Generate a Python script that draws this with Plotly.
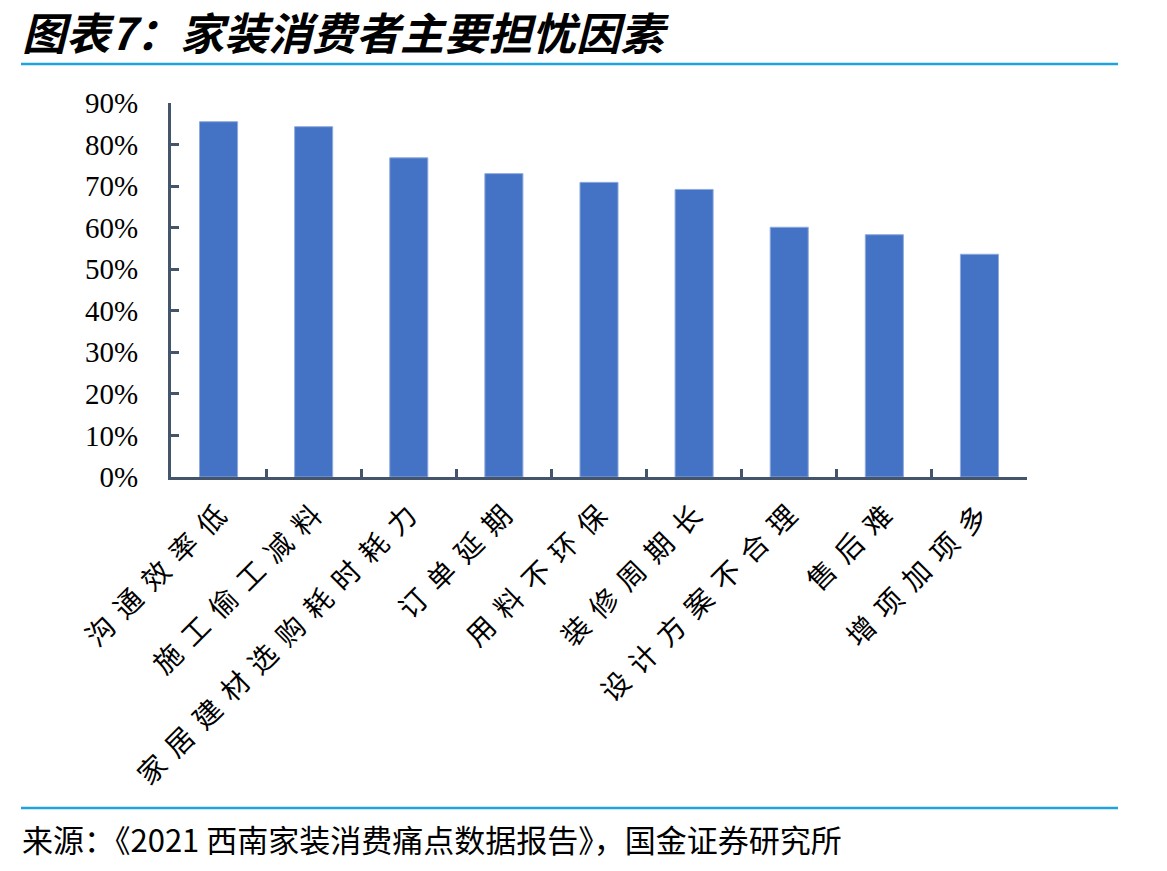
import plotly.graph_objects as go

categories = ["沟通效率低", "施工偷工减料", "家居建材选购耗时耗力", "订单延期", "用料不环保",
              "装修周期长", "设计方案不合理", "售后难", "增项加项多"]
values = [0.855, 0.843, 0.768, 0.730, 0.709, 0.692, 0.601, 0.583, 0.536]
y_ticks = [0, 0.1, 0.2, 0.3, 0.4, 0.5, 0.6, 0.7, 0.8, 0.9]
y_ticktext = ["0%", "10%", "20%", "30%", "40%", "50%", "60%", "70%", "80%", "90%"]

title_text = "<b><i>图表7：家装消费者主要担忧因素</i></b>"
source_text = "来源：《2021 西南家装消费痛点数据报告》，国金证券研究所"

W, H = 1167, 871
L, R, T, B = 171, 1027, 103, 477

def px(x):
    return (x - L) / (R - L)

def py(y):
    return (B - y) / (B - T)

spaced = ["\u2009\u2009".join(list(c)) for c in categories]

fig = go.Figure(go.Bar(
    x=spaced, y=values,
    marker=dict(color="#4472C4", line=dict(color="#8FAADC", width=1)),
))

axis_color = "#44546A"
fig.update_layout(
    width=W, height=H,
    margin=dict(l=L, r=W - R, t=T, b=H - B, pad=0),
    plot_bgcolor="white", paper_bgcolor="white",
    bargap=0.6,
    showlegend=False,
    font=dict(family="Noto Sans CJK SC", color="black"),
    xaxis=dict(
        tickangle=-45,
        showline=True, linecolor=axis_color, linewidth=3,
        ticks="inside", tickson="boundaries", ticklen=8, tickwidth=3, tickcolor=axis_color,
        tickfont=dict(family="Noto Sans CJK SC", size=28, color="black"),
        ticklabelstandoff=8,
        showgrid=False, zeroline=False,
    ),
    yaxis=dict(
        range=[0, 0.9],
        tickvals=y_ticks, ticktext=y_ticktext,
        showline=True, linecolor=axis_color, linewidth=3,
        ticks="inside", ticklen=8, tickwidth=3, tickcolor=axis_color,
        tickfont=dict(family="Liberation Serif", size=29, color="black"),
        ticklabelstandoff=24,
        showgrid=False, zeroline=False,
    ),
    shapes=[
        dict(type="line", xref="paper", yref="paper", x0=px(21), x1=px(1118), y0=py(64), y1=py(64),
             line=dict(color="#1FA3E0", width=2.5)),
        dict(type="line", xref="paper", yref="paper", x0=px(21), x1=px(1118), y0=py(808), y1=py(808),
             line=dict(color="#1FA3E0", width=2.5)),
    ],
    annotations=[
        dict(text=title_text, xref="paper", yref="paper", x=px(20), y=py(31),
             xanchor="left", yanchor="middle", showarrow=False,
             font=dict(family="Noto Sans CJK SC", size=44, color="black")),
        dict(text=source_text, xref="paper", yref="paper", x=px(20), y=py(838),
             xanchor="left", yanchor="middle", showarrow=False,
             font=dict(family="Noto Sans CJK SC", size=31, color="black")),
    ],
)

fig.write_html("out.html")
